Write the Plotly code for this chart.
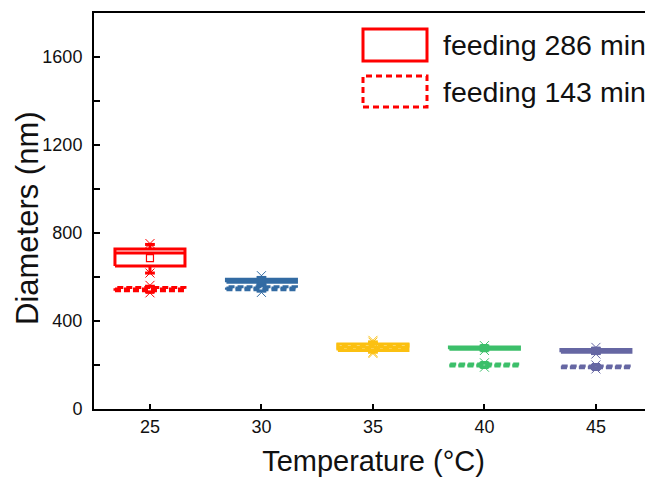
import plotly.graph_objects as go

# ---- data ----
temps = [25, 30, 35, 40, 45]
colors = ["#FF0000", "#336BA3", "#FBC011", "#3CBF6A", "#6667A3"]

# feeding 286 min
q1_286 = [650, 576, 266, 272, 258]
med_286 = [709, 583, 281, 277, 264]
q3_286 = [727, 590, 296, 282, 270]
mean_286 = [686, 583, 281, 277, 264]
wlo_286 = [618, 570, 258, 268, 252]
whi_286 = [748, 598, 305, 286, 276]
min_286 = [618, 566, 252, 266, 250]
max_286 = [752, 606, 312, 288, 280]

# feeding 143 min
q1_143 = [537, 542, 270, 196, 187]
med_143 = [545, 550, 280, 200, 191]
q3_143 = [552, 556, 292, 204, 195]
mean_143 = [543, 549, 281, 200, 191]
wlo_143 = [532, 536, 264, 192, 184]
whi_143 = [558, 562, 298, 208, 198]
min_143 = [528, 530, 258, 190, 182]
max_143 = [562, 566, 304, 210, 200]

legend_labels = ["feeding 286 min", "feeding 143 min"]

# ---- style ----
BOX_HALF = 1.57
CAP_HALF = 0.22
FONT = "Arial, Liberation Sans, sans-serif"

fig = go.Figure()


def add_box(x, q1, med, q3, mean, wlo, whi, mn, mx, color, dash):
    lw = 3
    fig.add_trace(go.Scatter(
        x=[x - BOX_HALF, x + BOX_HALF, x + BOX_HALF, x - BOX_HALF, x - BOX_HALF],
        y=[q1, q1, q3, q3, q1], mode="lines",
        line=dict(color=color, width=lw, dash=dash), showlegend=False, hoverinfo="skip"))
    fig.add_trace(go.Scatter(
        x=[x - BOX_HALF, x + BOX_HALF], y=[med, med], mode="lines",
        line=dict(color=color, width=lw, dash=dash), showlegend=False, hoverinfo="skip"))
    fig.add_trace(go.Scatter(
        x=[x, x, None, x, x, None, x - CAP_HALF, x + CAP_HALF, None, x - CAP_HALF, x + CAP_HALF],
        y=[q3, whi, None, q1, wlo, None, whi, whi, None, wlo, wlo], mode="lines",
        line=dict(color=color, width=lw), showlegend=False, hoverinfo="skip"))
    fig.add_trace(go.Scatter(
        x=[x], y=[mean], mode="markers",
        marker=dict(symbol="square-open", size=7, color=color, line=dict(width=1.2)),
        showlegend=False, hoverinfo="skip"))
    fig.add_trace(go.Scatter(
        x=[x, x], y=[mn, mx], mode="markers",
        marker=dict(symbol="x-thin-open", size=9, color=color, line=dict(width=1, color=color)),
        showlegend=False, hoverinfo="skip"))


for i, t in enumerate(temps):
    add_box(t, q1_143[i], med_143[i], q3_143[i], mean_143[i], wlo_143[i], whi_143[i],
            min_143[i], max_143[i], colors[i], "6px,3px")
    add_box(t, q1_286[i], med_286[i], q3_286[i], mean_286[i], wlo_286[i], whi_286[i],
            min_286[i], max_286[i], colors[i], "solid")

# Page body has an 8px margin; plot area in screen pixels:
L, T, W, H = 94, 13, 559, 396


def px_x(p):
    return (p - L) / W


def px_y(p):
    return (T + H - p) / H


# legend (drawn manually to match large box symbols)
fig.add_shape(type="rect", xref="paper", yref="paper",
              x0=px_x(363), x1=px_x(427), y0=px_y(61), y1=px_y(29),
              line=dict(color="#FF0000", width=3))
fig.add_shape(type="rect", xref="paper", yref="paper",
              x0=px_x(363), x1=px_x(427), y0=px_y(107), y1=px_y(76),
              line=dict(color="#FF0000", width=3, dash="6px,4px"))
for lab, yc in zip(legend_labels, [45, 92]):
    fig.add_annotation(text=lab, xref="paper", yref="paper", x=px_x(441), y=px_y(yc),
                       xanchor="left", yanchor="middle", showarrow=False,
                       font=dict(family=FONT, size=28.5, color="#111111"))

# y-axis title
fig.add_annotation(text="Diameters (nm)", xref="paper", yref="paper", x=px_x(27), y=px_y(218),
                   xanchor="center", yanchor="middle", textangle=-90, showarrow=False,
                   font=dict(family=FONT, size=31, color="#111111"))

fig.update_layout(
    width=645, height=470,
    margin=dict(l=86, r=0, t=5, b=69),
    paper_bgcolor="white", plot_bgcolor="white",
    showlegend=False,
    font=dict(family=FONT, color="#111111"),
)
fig.update_xaxes(
    range=[22.49, 47.56], tickvals=temps, ticktext=[str(t) for t in temps],
    ticks="inside", ticklen=5, tickwidth=2, tickcolor="black",
    showline=True, linewidth=2, linecolor="black", mirror=True,
    showgrid=False, zeroline=False, automargin=False,
    tickfont=dict(size=18, family=FONT),
    title=dict(text="Temperature (°C)", font=dict(size=29, family=FONT), standoff=15),
)
fig.update_yaxes(
    range=[0, 1800], tickvals=[0, 400, 800, 1200, 1600],
    ticks="inside", ticklen=6, tickwidth=2, tickcolor="black",
    minor=dict(tickvals=[200, 600, 1000, 1400], ticks="inside", ticklen=6, tickwidth=2, tickcolor="black"),
    showline=True, linewidth=2, linecolor="black", mirror=False,
    showgrid=False, zeroline=False, automargin=False,
    ticklabelstandoff=6,
    tickfont=dict(size=18, family=FONT),
)

fig.write_html("out.html")
